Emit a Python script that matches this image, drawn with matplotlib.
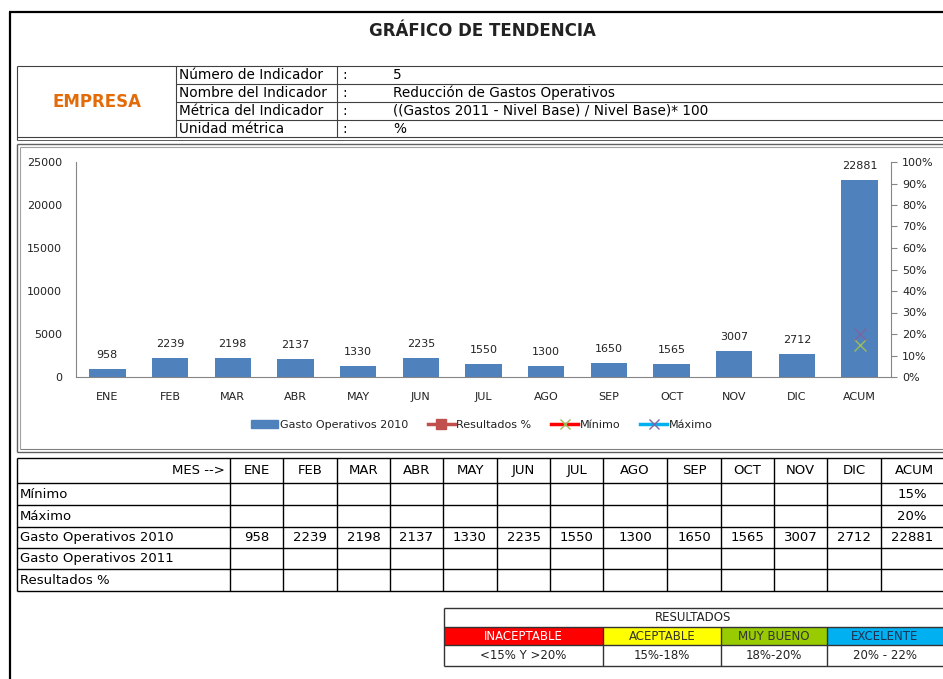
import numpy as np
import matplotlib
matplotlib.use('Agg')
import matplotlib.pyplot as plt
from matplotlib.patches import Rectangle
from matplotlib.lines import Line2D

plt.rcParams['font.family'] = ['DejaVu Sans']

# datos
meses = ['ENE', 'FEB', 'MAR', 'ABR', 'MAY', 'JUN', 'JUL', 'AGO', 'SEP', 'OCT', 'NOV', 'DIC', 'ACUM']
gasto_2010 = [958, 2239, 2198, 2137, 1330, 2235, 1550, 1300, 1650, 1565, 3007, 2712, 22881]
gasto_2011 = [np.nan] * 13
minimo = [np.nan] * 12 + [0.15]
maximo = [np.nan] * 12 + [0.20]
resultados = [np.nan] * 13

info_labels = ['Número de Indicador', 'Nombre del Indicador', 'Métrica del Indicador', 'Unidad métrica']
info_values = ['5', 'Reducción de Gastos Operativos', '((Gastos 2011 - Nivel Base) / Nivel Base)* 100', '%']

niveles = ['INACEPTABLE', 'ACEPTABLE', 'MUY BUENO', 'EXCELENTE']
rangos = ['<15% Y >20%', '15%-18%', '18%-20%', '20% - 22%']
colores_nivel = ['#FF0000', '#FFFF00', '#99CC00', '#00B0F0']
texto_nivel = ['white', '#333333', '#333333', '#1F3050']

W, H = 943, 679
fig = plt.figure(figsize=(W / 100, H / 100), dpi=100)
bg = fig.add_axes([0, 0, 1, 1])
bg.set_xlim(0, W)
bg.set_ylim(H, 0)
bg.axis('off')


def hline(y, x0, x1, c='black', lw=0.8):
    bg.plot([x0, x1], [y, y], color=c, lw=lw, solid_capstyle='butt')


def vline(x, y0, y1, c='black', lw=0.8):
    bg.plot([x, x], [y0, y1], color=c, lw=lw, solid_capstyle='butt')


# marco exterior
hline(12, 9, W, lw=1.6)
vline(10, 12, H, lw=1.6)

bg.text(482, 31, 'GRÁFICO DE TENDENCIA', ha='center', va='center',
        fontsize=12, fontweight='bold', color='#222222')

# cabecera con datos del indicador
R = W + 5
hc = '#404040'
hline(66, 17, R, c=hc)
hline(137, 17, R, c=hc)
hline(139.5, 17, R, c=hc, lw=0.6)
vline(17, 66, 139.5, c=hc)
vline(176, 66, 137, c=hc)
vline(337, 66, 137, c=hc)
for y in [84, 102, 120]:
    hline(y, 176, R, c=hc)
bg.text(97, 102, 'EMPRESA', ha='center', va='center', fontsize=12,
        fontweight='bold', color='#E36C0A')
for i, (lab, val) in enumerate(zip(info_labels, info_values)):
    yc = 75 + 18 * i
    bg.text(179, yc, lab, ha='left', va='center', fontsize=9.8, color='black')
    bg.text(342, yc, ':', ha='left', va='center', fontsize=9.8, color='black')
    bg.text(393, yc, val, ha='left', va='center', fontsize=9.8, color='black')

# marco del grafico
hline(144, 17, R, c='#606060', lw=1.0)
hline(146.5, 19.5, R, c='#A0A0A0', lw=0.8)
hline(448.5, 19.5, R, c='#808080', lw=0.8)
hline(452, 17, R, c='#606060', lw=1.0)
vline(17, 144, 452, c='#606060', lw=1.0)
vline(19.5, 146.5, 448.5, c='#A0A0A0', lw=0.8)

# grafico de barras
x0, x1, ytop, ybot = 76, 891, 162, 377
ax = fig.add_axes([x0 / W, (H - ybot) / H, (x1 - x0) / W, (ybot - ytop) / H])
ax.set_facecolor('none')
x = np.arange(len(meses))
ax.bar(x, gasto_2010, width=0.58, color='#4F81BD', label='Gasto Operativos 2010', zorder=2)
for xi, v in zip(x, gasto_2010):
    ax.annotate(str(v), (xi, v), xytext=(0, 6.5), textcoords='offset points',
                ha='center', va='bottom', fontsize=8, color='#222222')
ax.set_xlim(-0.5, len(meses) - 0.5)
ax.set_ylim(0, 25000)
ax.set_yticks(np.arange(0, 25001, 5000))
ax.set_xticks(x)
ax.set_xticklabels(meses)
ax.tick_params(axis='both', length=0, labelsize=8, colors='#222222')
ax.tick_params(axis='y', pad=10)
ax.tick_params(axis='x', pad=11)
for s in ['top', 'right']:
    ax.spines[s].set_visible(False)
ax.spines['left'].set_color('#868686')
ax.spines['bottom'].set_color('#868686')

ax2 = ax.twinx()
ax2.set_ylim(0, 1)
ax2.set_yticks(np.arange(0, 1.01, 0.1))
ax2.set_yticklabels([f'{int(round(t * 100))}%' for t in np.arange(0, 1.01, 0.1)])
ax2.tick_params(axis='y', length=4, direction='out', labelsize=8, colors='#222222',
                pad=4)
ax2.tick_params(axis='y', color='#868686')
for s in ['top', 'left', 'bottom']:
    ax2.spines[s].set_visible(False)
ax2.spines['right'].set_color('#868686')
ax2.plot(x, resultados, color='#C0504D', marker='s', lw=2)
ax2.plot(x, minimo, color='#FF0000', marker='x', mec='#9BBB59', ms=8, lw=2)
ax2.plot(x, maximo, color='#00B0F0', marker='x', mec='#8064A2', ms=8, lw=2)

handles = [
    Rectangle((0, 0), 1, 1, color='#4F81BD'),
    Line2D([], [], color='#C0504D', lw=2.5, marker='s', ms=7),
    Line2D([], [], color='#FF0000', lw=2.5, marker='x', mec='#9BBB59', ms=7),
    Line2D([], [], color='#00B0F0', lw=2.5, marker='x', mec='#8064A2', ms=7),
]
labels = ['Gasto Operativos 2010', 'Resultados %', 'Mínimo', 'Máximo']
fig.legend(handles, labels, loc='center', bbox_to_anchor=(482 / W, 1 - 425 / H),
           ncol=4, frameon=False, fontsize=8, handlelength=2.4, handleheight=0.8,
           handletextpad=0.15, columnspacing=1.8, labelcolor='#222222')

# tabla mensual
cols = [17, 230, 283, 337, 390, 443, 497, 550, 603, 667, 721, 774, 827, 881, R]
rows = [458, 483, 505, 527, 548, 569, 591]
for y in rows:
    hline(y, cols[0], cols[-1], lw=1.0)
for xc in cols:
    vline(xc, rows[0], rows[-1], lw=1.0)
fs = 9.5
bg.text(cols[1] - 5, (rows[0] + rows[1]) / 2, 'MES -->', ha='right', va='center', fontsize=fs)
for i, m in enumerate(meses):
    bg.text((cols[i + 1] + cols[i + 2]) / 2, (rows[0] + rows[1]) / 2, m,
            ha='center', va='center', fontsize=fs)


def fmt_pct(v):
    return '' if np.isnan(v) else f'{int(round(v * 100))}%'


def fmt_num(v):
    return '' if np.isnan(v) else str(int(v))


filas = [
    ('Mínimo', [fmt_pct(v) for v in minimo]),
    ('Máximo', [fmt_pct(v) for v in maximo]),
    ('Gasto Operativos 2010', [fmt_num(v) for v in gasto_2010]),
    ('Gasto Operativos 2011', [fmt_num(v) for v in gasto_2011]),
    ('Resultados %', [fmt_pct(v) for v in resultados]),
]
acum_c = (881 + W) / 2
for r, (nombre, vals) in enumerate(filas):
    yc = (rows[r + 1] + rows[r + 2]) / 2
    bg.text(20, yc, nombre, ha='left', va='center', fontsize=fs)
    for i, t in enumerate(vals):
        xc = acum_c if i == len(vals) - 1 else (cols[i + 1] + cols[i + 2]) / 2
        bg.text(xc, yc, t, ha='center', va='center', fontsize=fs)

# cuadro de resultados
rc = [444, 603, 721, 827, R]
rr = [608, 627, 645, 666]
for i in range(4):
    bg.add_patch(Rectangle((rc[i], rr[1]), rc[i + 1] - rc[i], rr[2] - rr[1],
                           color=colores_nivel[i], lw=0))
for y in rr:
    hline(y, rc[0], rc[-1], c='#333333', lw=1.0)
vline(rc[0], rr[0], rr[-1], c='#333333', lw=1.0)
for xc in rc[1:-1]:
    vline(xc, rr[1], rr[-1], c='#333333', lw=1.0)
bg.text((rc[0] + W) / 2, (rr[0] + rr[1]) / 2, 'RESULTADOS', ha='center', va='center',
        fontsize=8.5, color='#222222')
for i in range(4):
    xc = (rc[i] + min(rc[i + 1], W)) / 2
    bg.text(xc, (rr[1] + rr[2]) / 2, niveles[i], ha='center', va='center',
            fontsize=8.5, color=texto_nivel[i])
    bg.text(xc, (rr[2] + rr[3]) / 2, rangos[i], ha='center', va='center',
            fontsize=8.5, color='#222222')

fig.savefig('out.png', dpi=100)
